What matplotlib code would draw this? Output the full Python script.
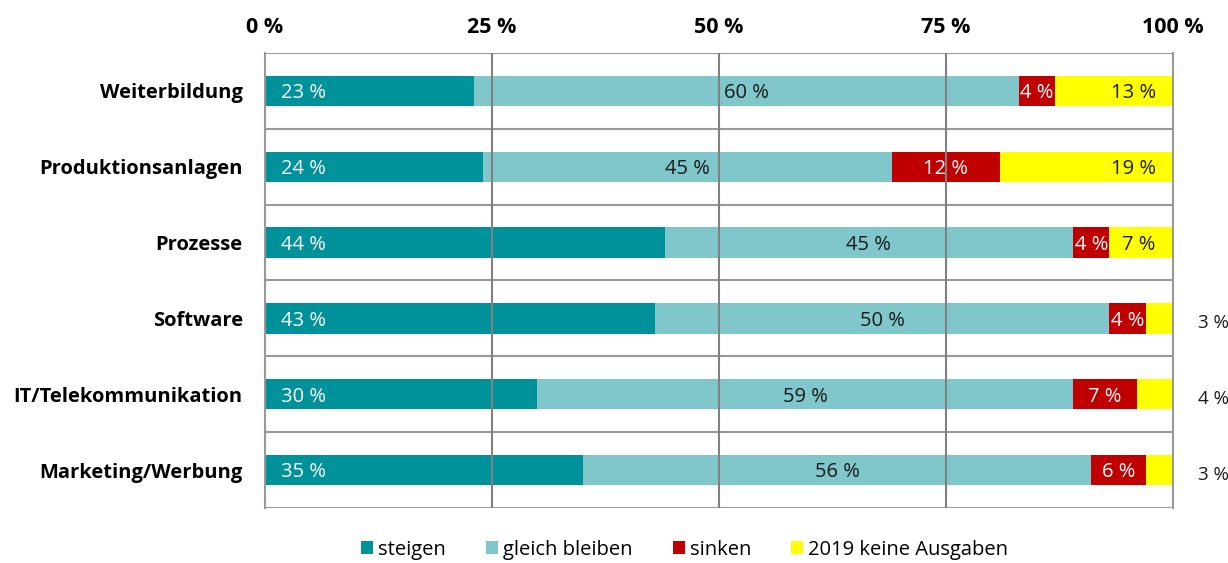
import matplotlib.pyplot as plt
import numpy as np

plt.rcParams['font.family'] = ['Open Sans', 'DejaVu Sans']

categories = ["Weiterbildung", "Produktionsanlagen", "Prozesse", "Software",
              "IT/Telekommunikation", "Marketing/Werbung"]
steigen = [23, 24, 44, 43, 30, 35]
gleich = [60, 45, 45, 50, 59, 56]
sinken = [4, 12, 4, 4, 7, 6]
keine = [13, 19, 7, 3, 4, 3]
series_names = ["steigen", "gleich bleiben", "sinken", "2019 keine Ausgaben"]
colors = ["#00929a", "#80c7cc", "#c00000", "#ffff00"]
text_colors = ["white", "#1a1a1a", "white", "#1a1a1a"]

fig = plt.figure(figsize=(12.28, 5.63), dpi=100)
ax = fig.add_axes([0.2158, 0.0977, 0.7394, 0.8082])

y = np.arange(len(categories))
data = [steigen, gleich, sinken, keine]
left = np.zeros(len(categories))
fs = 14.5
for vals, name, col, tcol in zip(data, series_names, colors, text_colors):
    vals = np.array(vals, dtype=float)
    ax.barh(y, vals, left=left, height=0.4, color=col, label=name, zorder=2)
    for i, v in enumerate(vals):
        txt = f"{v:.0f} %"
        yy = y[i] + 0.03
        if name == "steigen":
            ax.text(left[i] + 1.8, yy, txt, ha="left", va="center",
                    color=tcol, fontsize=fs, zorder=4)
        elif name == "2019 keine Ausgaben":
            if v < 5:
                # small shares are labelled outside the bar
                ax.text(102.7, yy + 0.03, txt, ha="left", va="center",
                        color=tcol, fontsize=13.5, zorder=4)
            else:
                ax.text(98.1, yy, txt, ha="right", va="center",
                        color=tcol, fontsize=fs, zorder=4)
        else:
            ax.text(left[i] + v / 2, yy, txt, ha="center", va="center",
                    color=tcol, fontsize=fs, zorder=4)
    left += vals

ax.set_xlim(0, 100)
ax.set_ylim(len(categories) - 0.5, -0.5)

for xv in [25, 50, 75]:
    ax.axvline(xv, color="#808080", linewidth=1.5, zorder=3)
for yb in np.arange(-0.5, len(categories), 1.0):
    ax.axhline(yb, color="#999999", linewidth=1.5, zorder=1)

for s in ["top", "bottom"]:
    ax.spines[s].set_visible(False)
for s in ["left", "right"]:
    ax.spines[s].set_color("#999999")
    ax.spines[s].set_linewidth(1.5)

ax.xaxis.tick_top()
ax.set_xticks([0, 25, 50, 75, 100])
ax.set_xticklabels(["0 %", "25 %", "50 %", "75 %", "100 %"],
                   fontsize=15.5, fontweight="bold")
ax.tick_params(axis="x", length=0, pad=11)
ax.set_yticks(y)
ax.set_yticklabels(categories, fontsize=14.5, fontweight="bold")
ax.tick_params(axis="y", length=0, pad=16)

ax.legend(loc="upper center", bbox_to_anchor=(0.462, -0.03), ncol=4,
          frameon=False, fontsize=14.5, handlelength=0.6, handleheight=0.6,
          handletextpad=0.25, columnspacing=2.0)

fig.savefig("out.png", dpi=100)
